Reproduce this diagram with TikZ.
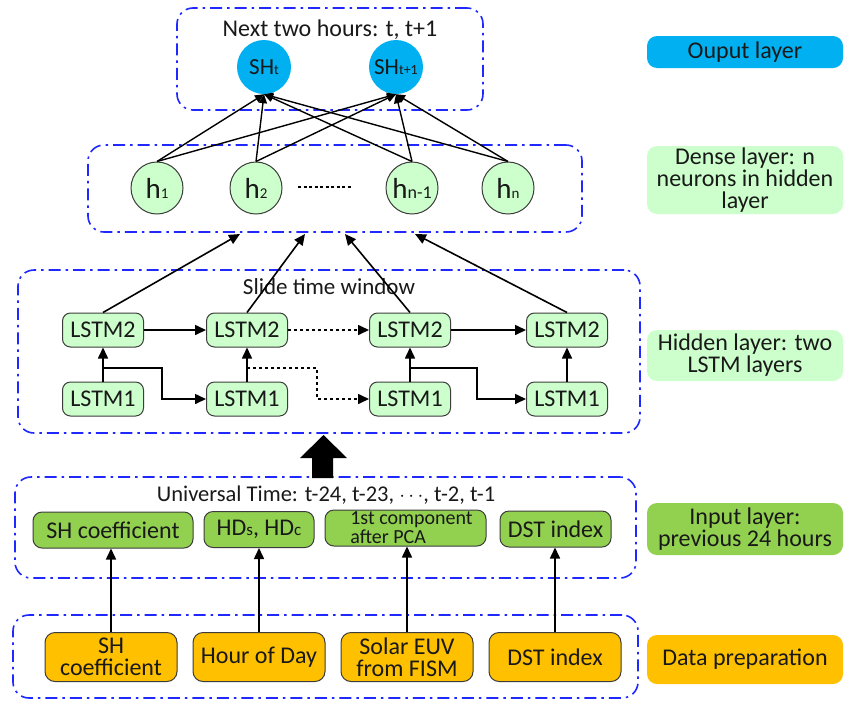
\documentclass[tikz,border=0pt]{standalone}
\usepackage{fontspec}
\setmainfont{Carlito}
\usetikzlibrary{arrows.meta}
\definecolor{grpblue}{RGB}{30,40,255}
\definecolor{outc}{RGB}{0,176,240}
\definecolor{lgreen}{RGB}{204,255,204}
\definecolor{mgreen}{RGB}{146,208,80}
\definecolor{orng}{RGB}{255,192,0}
\definecolor{bord}{RGB}{60,60,60}
\definecolor{txt}{RGB}{25,25,25}
\newcommand{\sbx}[2]{{\fontsize{#1}{#1}\selectfont #2}}
\begin{document}
\begin{tikzpicture}[x=1pt,y=-1pt, font=\fontsize{24}{22}\selectfont, text=txt,
 grp/.style={draw=grpblue, line width=1.6pt, dash pattern=on 12pt off 5pt on 2.5pt off 5pt, rounded corners=16pt, rectangle, inner sep=0pt},
 neuron/.style={circle, draw=bord, line width=1pt, fill=lgreen, minimum size=52pt, inner sep=0pt},
 outn/.style={circle, fill=outc, minimum size=54pt, inner sep=0pt, font=\fontsize{23}{23}\selectfont},
 lstm/.style={rectangle, rounded corners=8pt, draw=bord, line width=1pt, fill=lgreen, minimum width=81pt, minimum height=34pt, inner sep=0pt},
 inbox/.style={rectangle, rounded corners=9pt, draw=bord, line width=1pt, fill=mgreen, minimum height=36pt, inner sep=0pt},
 databox/.style={rectangle, rounded corners=10pt, draw=bord, line width=1pt, fill=orng, minimum width=132pt, minimum height=49pt, inner sep=0pt, align=center},
 lab/.style={rectangle, rounded corners=10pt, minimum width=196pt, inner sep=0pt, align=center},
 arr/.style={line width=1.6pt, -{Triangle[length=11pt,width=10pt]}},
 sarr/.style={line width=1.4pt, -{Triangle[length=9pt,width=8pt]}},
 dotline/.style={dash pattern=on 3pt off 3pt},
]
\useasboundingbox (0,0) rectangle (850,702);
\fill[white] (0,0) rectangle (850,702);

% group boxes
\node[grp, minimum width=306pt, minimum height=102pt] (gout) at (330,59) {};
\node[grp, minimum width=494pt, minimum height=87pt] (gden) at (335,188.5) {};
\node[grp, minimum width=622pt, minimum height=163pt] (ghid) at (329,351.5) {};
\node[grp, minimum width=621pt, minimum height=101pt] (ginp) at (325.5,527.5) {};
\node[grp, minimum width=625pt, minimum height=83pt] (gdat) at (325.5,656.5) {};

% output layer
\node (tout) at (330,30) {Next two hours: t, t+1};
\node[outn] (sh0) at (264,67) {SH\sbx{14}{t}};
\node[outn] (sh1) at (396,67) {SH\sbx{14}{t+1}};

% dense layer
\node[neuron] (h1) at (157,188) {\sbx{29}{h}\sbx{15}{1}};
\node[neuron] (h2) at (256,188) {\sbx{29}{h}\sbx{15}{2}};
\node[neuron] (h3) at (412,188) {\sbx{29}{h}\sbx{18}{n-1}};
\node[neuron] (h4) at (508,188) {\sbx{29}{h}\sbx{15}{n}};
\coordinate (dl) at (298,187);
\coordinate (dr) at (352,187);
\draw[line width=1.5pt, dash pattern=on 3pt off 2.5pt] (dl) -- (dr);

\foreach \h in {h1,h2,h3,h4}{
  \draw[sarr] (\h.north) -- (sh0.south);
  \draw[sarr] (\h.north) -- (sh1.south);
}

% hidden layer
\node[font=\fontsize{23}{22}\selectfont] (thid) at (329,287) {Slide time window};
\node[lstm] (a2) at (103,330) {LSTM2};
\node[lstm] (b2) at (247,330) {LSTM2};
\node[lstm] (c2) at (410,330) {LSTM2};
\node[lstm] (d2) at (567,330) {LSTM2};
\node[lstm] (a1) at (103,399) {LSTM1};
\node[lstm] (b1) at (247,399) {LSTM1};
\node[lstm] (c1) at (410,399) {LSTM1};
\node[lstm] (d1) at (567,399) {LSTM1};

\draw[arr] (a2) -- (b2);
\draw[arr, dotline] (b2) -- (c2);
\draw[arr] (c2) -- (d2);
\foreach \n in {a,b,c,d}{\draw[arr] (\n1) -- (\n2);}

\coordinate (ba) at (103,368); \coordinate (ka) at (162,399);
\coordinate (bb) at (247,368); \coordinate (kb) at (317,399);
\coordinate (bc) at (410,368); \coordinate (kc) at (477,399);
\draw[arr] (ba) -| (ka) -- (b1);
\draw[arr, dotline] (bb) -| (kb) -- (c1);
\draw[arr] (bc) -| (kc) -- (d1);

\coordinate (e1) at (240,234);
\coordinate (e2) at (305,234);
\coordinate (e3) at (345,234);
\coordinate (e4) at (415,234);
\draw[arr] (a2.north) -- (e1);
\draw[arr] (b2.north) -- (e2);
\draw[arr] (c2.north) -- (e3);
\draw[arr] (d2.north) -- (e4);

% big arrow
\fill[black] (312,478) -- (312,458) -- (300,458) -- (323.5,435) -- (347,458) -- (333,458) -- (333,478) -- cycle;

% input layer
\node[font=\fontsize{22.5}{22}\selectfont] (tinp) at (326,495) {Universal Time: t-24, t-23, $\cdots$, t-2, t-1};
\node[inbox, minimum width=160pt] (i1) at (113,530) {\raisebox{-3pt}{SH coefficient}};
\node[inbox, minimum width=110pt] (i2) at (259,529.5) {HD\sbx{17}{s}, HD\sbx{17}{c}};
\node[inbox, minimum width=161pt, align=left, font=\fontsize{20}{19}\selectfont] (i3) at (405.5,528) {\hspace*{12pt}1st component\\\hspace*{12pt}after PCA};
\node[inbox, minimum width=111pt] (i4) at (555.5,529) {DST index};

% data preparation
\node[databox] (p1) at (111,657) {SH\\coefficient};
\node[databox] (p2) at (259,657) {Hour of Day};
\node[databox] (p3) at (407,657) {Solar EUV\\from FISM};
\node[databox] (p4) at (555,657) {DST index};
\draw[arr] (p1.north) -- (p1.north |- i1.south);
\draw[arr] (p2.north) -- (i2.south);
\draw[arr] (p3.north) -- (p3.north |- i3.south);
\draw[arr] (p4.north) -- (p4.north |- i4.south);

% right labels
\node[lab, fill=outc, minimum height=32pt] (l1) at (745,52) {Ouput layer};
\node[lab, fill=lgreen, minimum height=68pt] (l2) at (745,180) {Dense layer: n\\neurons in hidden\\layer};
\node[lab, fill=lgreen, minimum height=51pt] (l3) at (745,355.5) {Hidden layer: two\\LSTM layers};
\node[lab, fill=mgreen, minimum height=52pt] (l4) at (745,529) {Input layer:\\previous 24 hours};
\node[lab, fill=orng, minimum height=49pt] (l5) at (745,659.5) {Data preparation};
\end{tikzpicture}
\end{document}
